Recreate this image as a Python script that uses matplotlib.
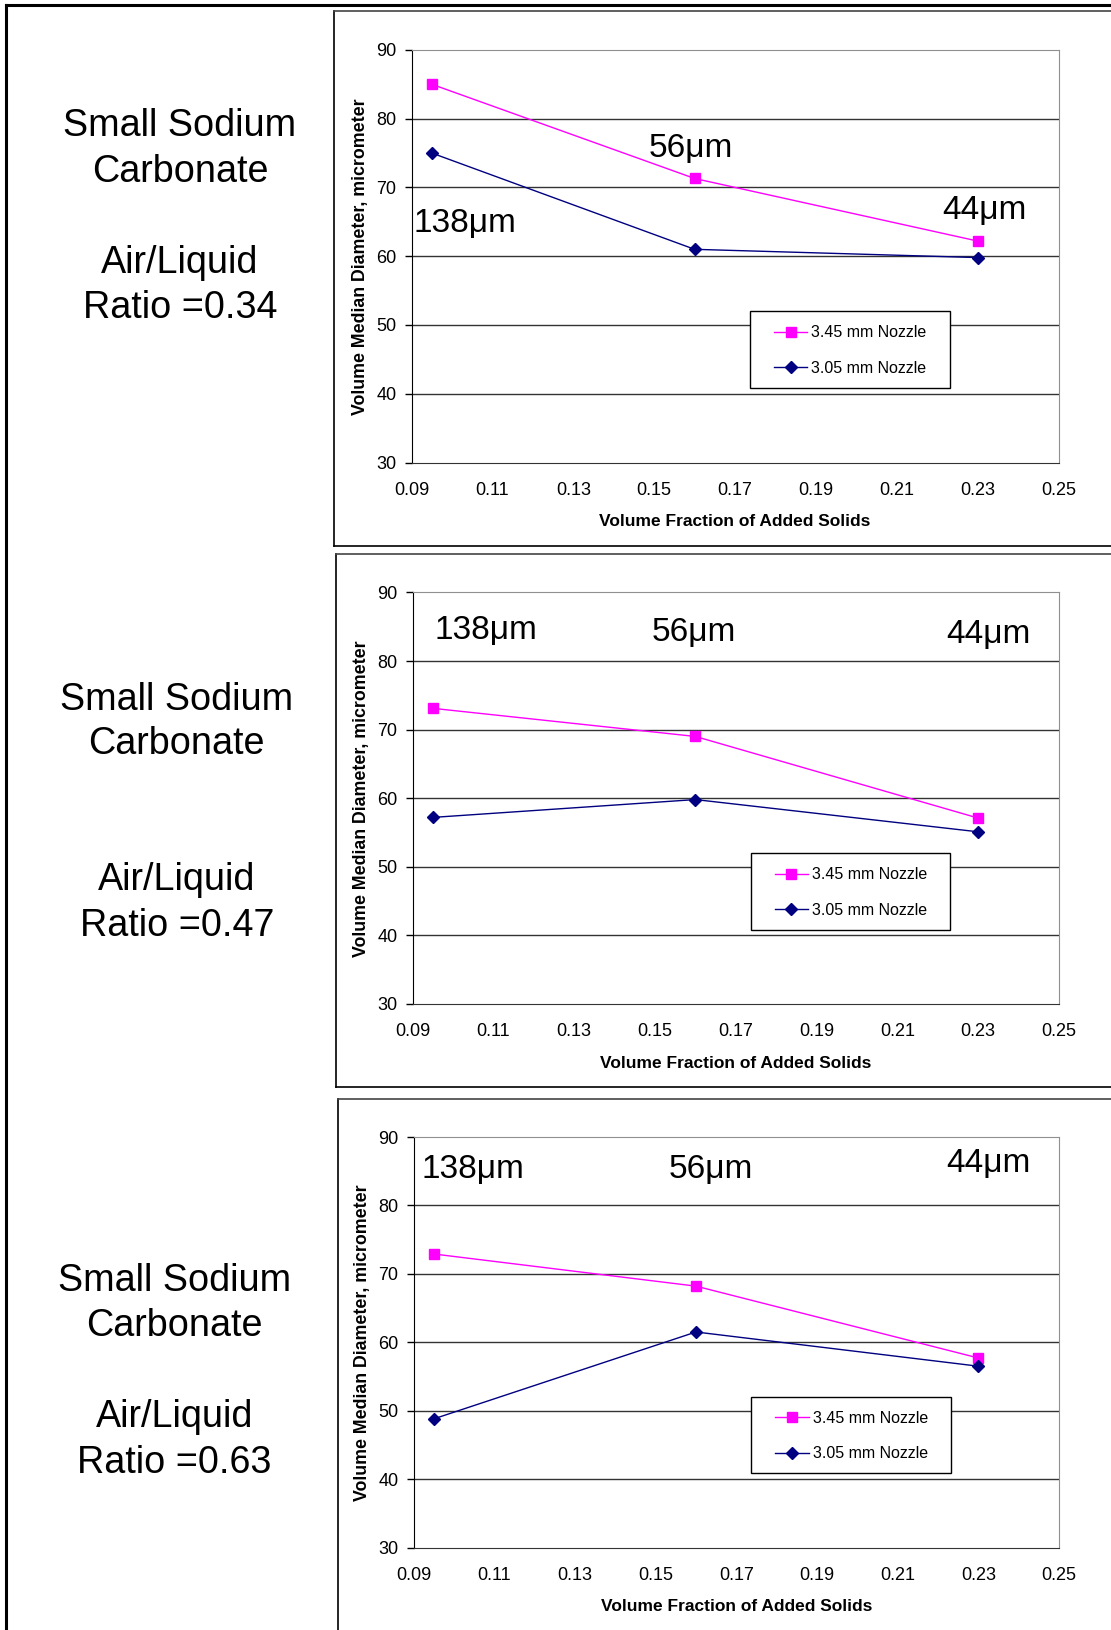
import matplotlib.pyplot as plt
from matplotlib.lines import Line2D
from matplotlib.patches import Rectangle

plt.rcParams['font.family'] = ['Liberation Sans', 'DejaVu Sans']

x = [0.095, 0.16, 0.23]

big_345 = [85.0, 71.3, 62.2]
big_305 = [75.0, 61.0, 59.8]

mid_345 = [73.1, 69.0, 57.1]
mid_305 = [57.2, 59.8, 55.1]

low_345 = [72.9, 68.2, 57.7]
low_305 = [48.8, 61.5, 56.5]

ratios = ['0.34', '0.47', '0.63']
sizes = ['138\u03bcm', '56\u03bcm', '44\u03bcm']
size_pos = [
    [(0.0905, 64.8), (0.1487, 75.6), (0.2212, 66.6)],
    [(0.0954, 84.4), (0.1492, 84.2), (0.2222, 83.9)],
    [(0.092, 85.2), (0.1533, 85.2), (0.2220, 86.1)],
]
xticks = [0.09, 0.11, 0.13, 0.15, 0.17, 0.19, 0.21, 0.23, 0.25]
yticks = [30, 40, 50, 60, 70, 80, 90]

W, H = 1111, 1630
fig = plt.figure(figsize=(W / 100, H / 100), dpi=100)

# outer frame (left + top only, rest is cut off)
fig.add_artist(Line2D([6 / W, 6 / W], [0, 1 - 5 / H], color='k', lw=2.2))
fig.add_artist(Line2D([6 / W, 1], [1 - 5 / H, 1 - 5 / H], color='k', lw=2.2))

# panel boxes: left, top, bottom
boxes = [(333.5, 11, 545.5), (335.5, 554, 1087), (337.5, 1098.5, 1640)]
for bx, bt, bb in boxes:
    fig.add_artist(Line2D([bx / W, bx / W], [1 - bt / H, 1 - bb / H], color='k', lw=1.2))
    fig.add_artist(Line2D([bx / W, 1], [1 - bt / H, 1 - bt / H], color='#444444', lw=1.2))
    fig.add_artist(Line2D([bx / W, 1], [1 - bb / H, 1 - bb / H], color='k', lw=1.2))

axes_px = [(411.6, 49.9, 1058.6, 462.5), (412.6, 592.4, 1059, 1004), (413.6, 1137, 1059, 1547.5)]
series = [(big_345, big_305), (mid_345, mid_305), (low_345, low_305)]
text_y = [(125.8, 171.5, 263, 307.6), (699.5, 744, 880, 926), (1281, 1326, 1416.6, 1463)]
text_x = [180, 176.7, 174.6]

for i in range(3):
    l, t, r, b = axes_px[i]
    ax = fig.add_axes([l / W, 1 - b / H, (r - l) / W, (b - t) / H])
    s345, s305 = series[i]
    ax.plot(x, s345, color='#FF00FF', lw=1, marker='s', ms=7.5, label='3.45 mm Nozzle')
    ax.plot(x, s305, color='#000080', lw=1, marker='D', ms=6, label='3.05 mm Nozzle')
    ax.set_xlim(0.09, 0.25)
    ax.set_ylim(30, 90)
    ax.set_xticks(xticks)
    ax.set_xticklabels(['%.2f' % v for v in xticks])
    ax.set_yticks(yticks)
    ax.tick_params(axis='x', length=0, pad=14, labelsize=13)
    ax.tick_params(axis='y', length=5, width=1, pad=6, labelsize=13)
    for v in yticks[1:-1]:
        ax.axhline(v, color='#333333', lw=1, zorder=0)
    ax.spines['left'].set_color('k')
    ax.spines['bottom'].set_color('#333333')
    ax.spines['top'].set_color('#909090')
    ax.spines['right'].set_color('#909090')
    ax.set_xlabel('Volume Fraction of Added Solids', fontweight='bold', fontsize=12.5, labelpad=11)
    ax.set_ylabel('Volume Median Diameter, micrometer', fontweight='bold', fontsize=12.8, labelpad=5)
    for lab, (px, py) in zip(sizes, size_pos[i]):
        ax.text(px, py, lab, fontsize=24, va='center', ha='left')

    # legend: white framed box plus borderless entries on top
    ax.add_patch(Rectangle((0.523, 0.181), 0.309, 0.186, transform=ax.transAxes,
                           facecolor='white', edgecolor='k', lw=1, zorder=3))
    leg = ax.legend(loc='center left', bbox_to_anchor=(0.56, 0.271), frameon=False,
                    fontsize=11.5, borderpad=0, labelspacing=1.28, handlelength=2.1,
                    handletextpad=0.25, borderaxespad=0)
    leg.set_zorder(4)

    ty = text_y[i]
    tx = text_x[i] / W
    fig.text(tx, 1 - ty[0] / H, 'Small Sodium', fontsize=27.2, ha='center', va='center')
    fig.text(tx, 1 - ty[1] / H, 'Carbonate', fontsize=27.2, ha='center', va='center')
    fig.text(tx, 1 - ty[2] / H, 'Air/Liquid', fontsize=27.2, ha='center', va='center')
    fig.text(tx, 1 - ty[3] / H, 'Ratio =' + ratios[i], fontsize=27.2, ha='center', va='center')

plt.savefig('out.png', dpi=100)
plt.close()
